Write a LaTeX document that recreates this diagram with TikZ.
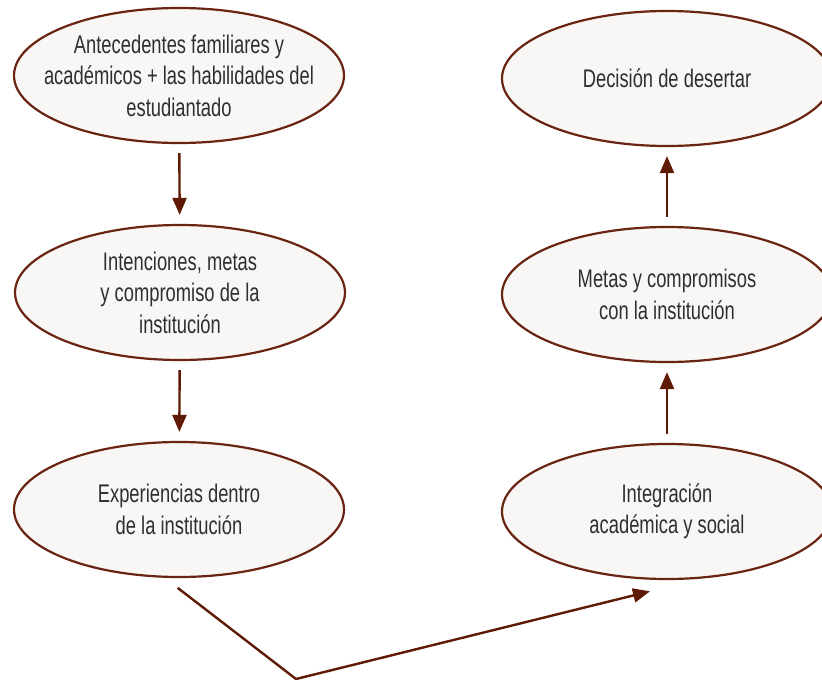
\documentclass[tikz,border=0pt]{standalone}
\usepackage{fontspec}
\setmainfont{Liberation Sans}[FakeStretch=0.72]
\usepackage{tikz}
\usetikzlibrary{positioning,shapes,arrows.meta}
\definecolor{rim}{HTML}{6A2412}
\definecolor{arr}{HTML}{5E1A04}
\definecolor{bg}{HTML}{F8F7F5}
\definecolor{txt}{HTML}{2F2F2F}
\begin{document}
\begin{tikzpicture}[x=1pt, y=-1pt,
		oval/.style={ellipse, draw=rim, fill=bg, line width=2.2pt, minimum width=330pt, minimum height=135pt, inner xsep=-80pt, inner ysep=-20pt, align=center, text=txt, font=\fontsize{25.5}{31.5}\selectfont},
		link/.style={-{Triangle[length=17pt, width=14pt]}, draw=arr, line width=2.4pt, shorten <=9pt, shorten >=9pt}]
				\useasboundingbox (0,0) rectangle (822,680);
				\node[oval] (AF) at (179, 75.5) {Antecedentes familiares y\\académicos + las habilidades del\\estudiantado};
				\node[oval] (IM) at (180, 292.5) {Intenciones, metas\\y compromiso de la\\institución};
				\node[oval] (EX) at (179, 509.5) {Experiencias dentro\\de la institución};
				\node[oval] (DD) at (667, 78.5) {Decisión de desertar};
				\node[oval] (MC) at (667, 294.5) {Metas y compromisos\\con la institución};
				\node[oval] (IG) at (667, 511.5) {Integración\\académica y social};
				\coordinate (B) at (296, 679);
				\draw[link] (AF) -- (IM);
				\draw[link] (IM) -- (EX);
				\draw[link] (IG) -- (MC);
				\draw[link] (MC) -- (DD);
				\draw[link, shorten <=16pt, shorten >=17.5pt] ([xshift=-14pt]EX.south) -- (B) -- ([yshift=-7pt]IG.south);
			\end{tikzpicture}
\end{document}
